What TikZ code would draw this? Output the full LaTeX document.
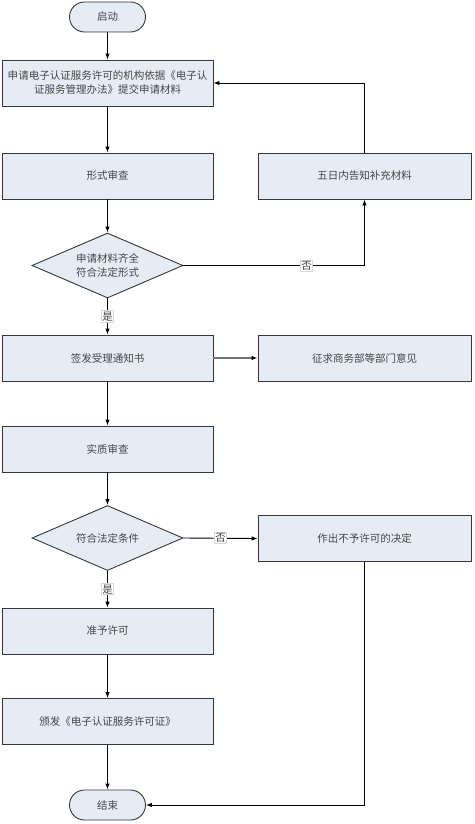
\documentclass[tikz,border=0pt]{standalone}
\usepackage{fontspec}
\setmainfont{Noto Sans CJK SC}
\usetikzlibrary{shapes.geometric,arrows.meta}
\definecolor{boxfill}{RGB}{230,236,246}
\definecolor{boxline}{RGB}{55,55,55}
\definecolor{boxtext}{RGB}{70,70,70}

\tikzset{
        proc/.style = {rectangle,fill=boxfill,draw=boxline,line width=0.9pt,minimum width=211pt,minimum height=46pt,inner sep=0pt,align=center,text=boxtext},
        term/.style = {rectangle,rounded corners=15pt,fill=boxfill,draw=boxline,line width=0.9pt,minimum width=76pt,minimum height=30pt,inner sep=0pt,text=boxtext},
        check/.style = {diamond,aspect=2.3,fill=boxfill,draw=boxline,line width=0.9pt,minimum width=151pt,minimum height=65pt,inner sep=0pt,align=center,text=boxtext},
        flow/.style = {draw=black,line width=0.9pt,-{Latex[length=6pt,width=4.5pt,color=black]}},
        lab/.style = {fill=white,draw=black!15,inner sep=1pt,text=boxtext}
    }

\begin{document}
\begin{tikzpicture}[x=1pt,y=-1pt,every node/.style={font=\fontsize{10.5}{14}\selectfont}]
            \useasboundingbox (0,0) rectangle (474,824);

            \node[term] (start) at (107.5, 17) {启动};
            \node[proc] (apply) at (107.5, 83) {申请电子认证服务许可的机构依据《电子认\\证服务管理办法》提交申请材料};
            \node[proc] (formal) at (107.5, 176) {形式审查};
            \node[check] (check1) at (107.5, 265.5) {申请材料齐全\\符合法定形式};
            \node[proc] (accept) at (107.5, 358) {签发受理通知书};
            \node[proc] (substance) at (107.5, 449) {实质审查};
            \node[check] (check2) at (107.5, 538) {符合法定条件};
            \node[proc] (grant) at (107.5, 631) {准予许可};
            \node[proc] (issue) at (107.5, 721.5) {颁发《电子认证服务许可证》};
            \node[term] (end) at (107.5, 805) {结束};

            \node[proc,minimum width=213pt] (supply) at (364.5, 176) {五日内告知补充材料};
            \node[proc,minimum width=213pt] (consult) at (364.5, 358) {征求商务部等部门意见};
            \node[proc,minimum width=213pt] (refuse) at (364.5, 538.5) {作出不予许可的决定};

            \draw[flow] (start) -- (apply);
            \draw[flow] (apply) -- (formal);
            \draw[flow] (formal) -- (check1);
            \draw[flow] (check1) -- node[lab] {是} (accept);
            \draw[flow] (check1.east) -| node[lab,pos=0.34] {否} (supply.south);
            \draw[flow] (supply.north) |- (apply.east);
            \draw[flow,draw=black!55,line width=1.3pt] (accept) -- (consult);
            \draw[flow] (accept) -- (substance);
            \draw[flow] (substance) -- (check2);
            \draw[flow] (check2.east) -- node[lab] {否} (refuse.west);
            \draw[flow] (check2) -- node[lab] {是} (grant);
            \draw[flow] (grant) -- (issue);
            \draw[flow] (issue) -- (end);
            \draw[flow] (refuse.south) |- (end.east);
        \end{tikzpicture}
\end{document}
